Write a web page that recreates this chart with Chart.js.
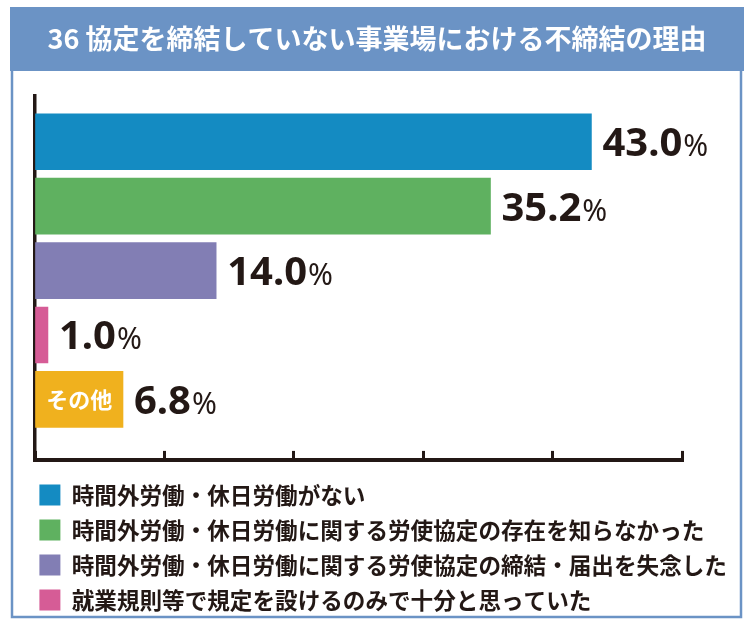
<!DOCTYPE html>
<html lang="ja">
<head>
<meta charset="utf-8">
<script src="https://cdn.jsdelivr.net/npm/chart.js@4.4.1/dist/chart.umd.min.js"></script>
<style>
  html, body { margin: 0; padding: 0; background: #fff; }
</style>
</head>
<body>
<canvas id="reasonChart" width="756" height="634"></canvas>
<script>
'use strict'
// data
const titleText = '36 協定を締結していない事業場における不締結の理由';
const categories = [
  '時間外労働・休日労働がない',
  '時間外労働・休日労働に関する労使協定の存在を知らなかった',
  '時間外労働・休日労働に関する労使協定の締結・届出を失念した',
  '就業規則等で規定を設けるのみで十分と思っていた',
  'その他',
];
const values = [43.0, 35.2, 14.0, 1.0, 6.8];
const barTexts = ['', '', '', '', 'その他'];
const xTicks = [0, 10, 20, 30, 40, 50];

const barColors = ['#148bc2', '#5fb160', '#827eb4', '#d65c96', '#f0b11e'];
const frameColor = '#6b93c5';
const inkColor = '#231815';

{
  // frame + title band
  const framePlugin = {
    id: 'frame',
    beforeDraw(chart) {
      const c = chart.ctx;
      c.save();
      c.fillStyle = '#fff';
      c.fillRect(0, 0, chart.width, chart.height);
      c.strokeStyle = frameColor;
      c.lineWidth = 2.5;
      c.strokeRect(12, 40, 729, 577);
      c.fillStyle = frameColor;
      c.fillRect(10, 7, 734, 64);
      c.restore();
    },
  };

  // value labels next to bars, text inside bars
  const barLabelPlugin = {
    id: 'barLabels',
    afterDatasetsDraw(chart) {
      const c = chart.ctx;
      const meta = chart.getDatasetMeta(0);
      c.save();
      meta.data.forEach((bar, i) => {
        const num = values[i].toFixed(1);
        const base = bar.y + 14.5;
        c.fillStyle = inkColor;
        c.textAlign = 'left';
        c.textBaseline = 'alphabetic';
        c.font = 'bold 40px "Noto Sans"';
        const x0 = bar.x + 11;
        c.fillText(num, x0, base);
        const w = c.measureText(num).width;
        c.font = '30px "Noto Sans"';
        c.fillText('%', x0 + w + 1, base);
        if (barTexts[i]) {
          c.fillStyle = '#fff';
          c.textAlign = 'center';
          c.textBaseline = 'middle';
          c.font = 'bold 22px "Noto Sans CJK JP"';
          c.fillText(barTexts[i], (bar.x + bar.base) / 2, bar.y);
        }
      });
      c.restore();
    },
  };

  const ctx = document.getElementById('reasonChart').getContext('2d');
  const legendCount = barTexts.filter(t => !t).length;

  new Chart(ctx, {
    type: 'bar',
    data: {
      labels: categories,
      datasets: [{
        data: values.map((v, i) => ({ x: v, y: i })),
        backgroundColor: barColors,
        borderWidth: 0,
        barThickness: 56,
      }],
    },
    options: {
      indexAxis: 'y',
      responsive: false,
      animation: false,
      layout: { padding: { top: 7, left: 27, right: 29, bottom: 12.6 } },
      scales: {
        x: {
          type: 'linear',
          min: xTicks[0],
          max: xTicks[xTicks.length - 1],
          z: 1,
          ticks: { display: false, stepSize: xTicks[1] - xTicks[0] },
          grid: {
            drawOnChartArea: false,
            drawTicks: true,
            tickLength: -9,
            tickWidth: 3,
            tickColor: inkColor,
          },
          border: { display: true, color: inkColor, width: 4 },
          afterFit(scale) { scale.height = 11.5; },
        },
        y: {
          type: 'linear',
          reverse: true,
          offset: false,
          min: -0.72,
          max: 4.94,
          z: 1,
          ticks: { display: false },
          grid: { display: false, drawTicks: false, offset: false },
          border: { display: true, color: inkColor, width: 3.5 },
          afterFit(scale) { scale.width = 8; },
        },
        // empty right axis, keeps room for the value labels
        yRight: {
          type: 'linear',
          position: 'right',
          display: true,
          ticks: { display: false },
          grid: { display: false, drawTicks: false },
          border: { display: false },
          afterFit(scale) { scale.width = 45; },
        },
      },
      plugins: {
        title: {
          display: true,
          text: titleText,
          color: '#fff',
          font: { family: '"Noto Sans CJK JP"', size: 27, weight: 'bold', lineHeight: 1.2 },
          padding: { top: 16, bottom: 40 },
        },
        legend: {
          display: true,
          position: 'bottom',
          align: 'start',
          labels: {
            boxWidth: 21,
            boxHeight: 21,
            padding: 12.4,
            color: inkColor,
            font: { family: '"Noto Sans CJK JP"', size: 22.6, weight: 'bold' },
            generateLabels() {
              return categories.slice(0, legendCount).map((text, i) => ({
                text: text,
                fillStyle: barColors[i],
                strokeStyle: barColors[i],
                lineWidth: 0,
                fontColor: inkColor,
                index: i,
              }));
            },
          },
        },
        tooltip: { enabled: false },
      },
    },
    plugins: [framePlugin, barLabelPlugin],
  });
}
</script>
</body>
</html>
